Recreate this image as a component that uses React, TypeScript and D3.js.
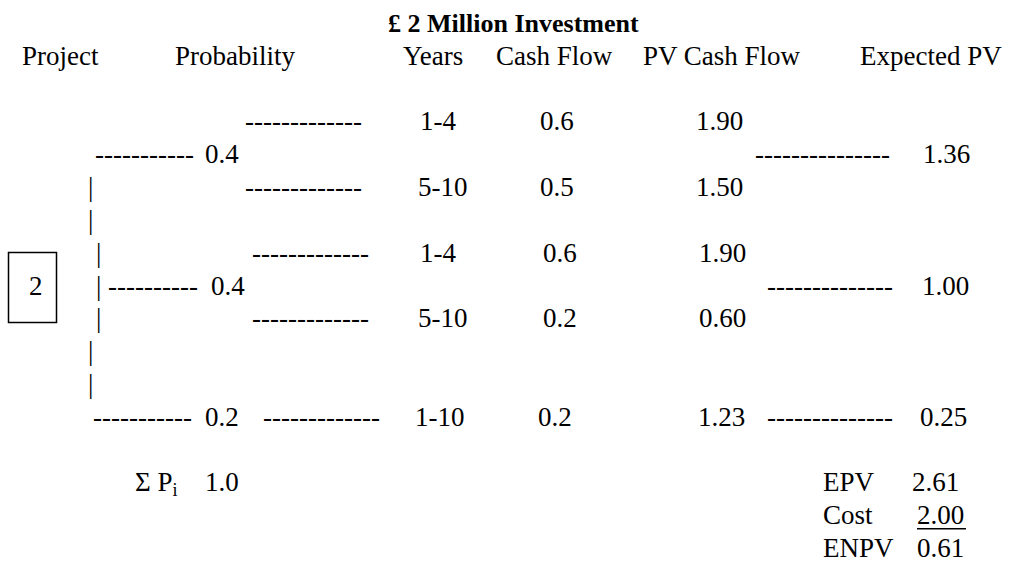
import { useEffect, useRef } from "react"
import * as d3 from "d3"

// Column headings and values read from the investment tree
const title = "£ 2 Million Investment"
const headers = ["Project", "Probability", "Years", "Cash Flow", "PV Cash Flow", "Expected PV"]
const projectId = "2"
const branchProbs = [0.4, 0.4, 0.2]
const years = ["1-4", "5-10", "1-4", "5-10", "1-10"]
const cashFlows = [0.6, 0.5, 0.6, 0.2, 0.2]
const pvCashFlows = [1.9, 1.5, 1.9, 0.6, 1.23]
const expectedPVs = [1.36, 1.0, 0.25]
const summaryLabels = ["EPV", "Cost", "ENPV"]
const summaryValues = [2.61, 2.0, 0.61]
const probTotal = 1.0

export default function App() {
  const svgRef = useRef<SVGSVGElement>(null)

  useEffect(() => {
    if (!svgRef.current) return
    const svg = d3.select(svgRef.current)
    svg.selectAll("*").remove()

    const width = 1024
    const height = 563
    svg.attr("width", width).attr("height", height)

    const font = "'Liberation Serif', 'Times New Roman', serif"
    const fs = 27

    // text line index -> baseline
    const y = d3.scaleLinear().domain([0, 16]).range([32, 557])

    const txt = (x: number, line: number, s: string, bold = false, size = fs) =>
      svg
        .append("text")
        .attr("x", x)
        .attr("y", y(line))
        .style("font-family", font)
        .style("font-size", `${size}px`)
        .style("font-weight", bold ? "bold" : "normal")
        .style("fill", "#000")
        .text(s)

    const dashes = (n: number) => "-".repeat(n)

    // title + headers
    txt(388, 0, title, true, 26)
    const headerX = [22, 175, 403, 496, 643, 860]
    headers.forEach((h, i) => txt(headerX[i], 1, h))

    // outcome rows (leaf branches)
    const outcomeLines = [3, 5, 7, 9, 12]
    const leafDashX = [245, 245, 252, 252, 263]
    const yearsX = [420, 418, 420, 418, 415]
    const cfX = [540, 540, 543, 543, 538]
    const pvX = [696, 696, 699, 699, 698]
    outcomeLines.forEach((line, i) => {
      txt(leafDashX[i], line, dashes(13))
      txt(yearsX[i], line, years[i])
      txt(cfX[i], line, cashFlows[i].toFixed(1))
      txt(pvX[i], line, pvCashFlows[i].toFixed(2))
    })

    // probability branches from the project node
    const branchLines = [4, 8, 12]
    const branchDashX = [95, 108, 93]
    const branchDashN = [11, 10, 11]
    const probX = [205, 211, 205]
    branchLines.forEach((line, i) => {
      txt(branchDashX[i], line, dashes(branchDashN[i]))
      txt(probX[i], line, branchProbs[i].toFixed(1))
    })

    // expected PV per branch
    const epvDashX = [755, 767, 767]
    const epvDashN = [15, 14, 14]
    const epvX = [923, 922, 920]
    branchLines.forEach((line, i) => {
      txt(epvDashX[i], line, dashes(epvDashN[i]))
      txt(epvX[i], line, expectedPVs[i].toFixed(2))
    })

    // vertical bar characters of the tree trunk
    const barLines = [5, 6, 7, 8, 9, 10, 11]
    const barX = [88, 88, 96, 96, 96, 88, 88]
    barLines.forEach((line, i) => txt(barX[i], line, "|"))

    // project node box
    svg
      .append("rect")
      .attr("x", 8.5)
      .attr("y", 252.5)
      .attr("width", 48)
      .attr("height", 70)
      .attr("fill", "none")
      .attr("stroke", "#000")
      .attr("stroke-width", 1.5)
    txt(29, 8, projectId)

    // sum of probabilities
    const sigma = txt(135, 14, "Σ P")
    sigma
      .append("tspan")
      .attr("dy", 5)
      .style("font-size", "18px")
      .text("i")
    txt(205, 14, probTotal.toFixed(1))

    // EPV / Cost / ENPV
    const sumX = [912, 917, 917]
    summaryLabels.forEach((l, i) => {
      txt(823, 14 + i, l)
      txt(sumX[i], 14 + i, summaryValues[i].toFixed(2))
    })
    svg
      .append("line")
      .attr("x1", 917)
      .attr("x2", 966)
      .attr("y1", y(15) + 4.5)
      .attr("y2", y(15) + 4.5)
      .attr("stroke", "#000")
      .attr("stroke-width", 1.5)
  }, [])

  return (
    <div style={{ position: "absolute", left: 0, top: 0, background: "#fff" }}>
      <svg ref={svgRef}></svg>
    </div>
  )
}
